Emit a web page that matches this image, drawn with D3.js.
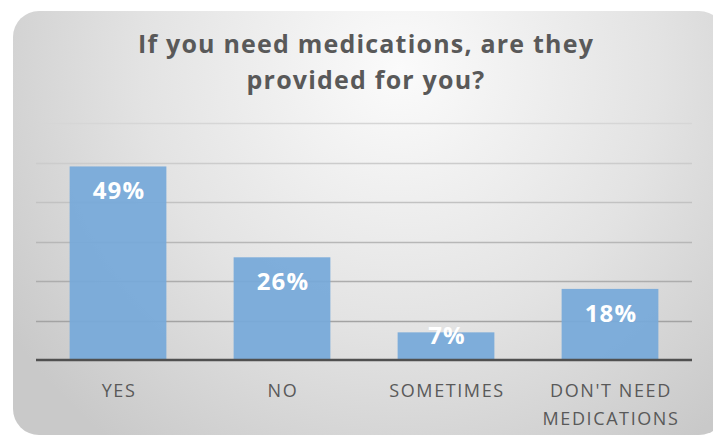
<!DOCTYPE html>
<html>
<head>
<meta charset="utf-8">
<script src="https://cdn.jsdelivr.net/npm/d3@7"></script>
<style>
  html, body { margin: 0; padding: 0; background: #ffffff; }
  svg { display: block; }
</style>
</head>
<body>
<svg id="chart" width="713" height="436"></svg>
<script>
// ---- data ----
const titleLines = ["If you need medications, are they", "provided for you?"];
const categories = ["YES", "NO", "SOMETIMES", "DON'T NEED\nMEDICATIONS"];
const values = [0.49, 0.26, 0.07, 0.18];
const valueLabels = ["49%", "26%", "7%", "18%"];
const gridTicks = [0, 0.1, 0.2, 0.3, 0.4, 0.5, 0.6];

const svg = d3.select("#chart");

// background panel with radial gradient
const defs = svg.append("defs");
const grad = defs.append("radialGradient")
  .attr("id", "bg").attr("gradientUnits", "userSpaceOnUse")
  .attr("cx", 400).attr("cy", 70).attr("r", 470);
grad.append("stop").attr("offset", "0").attr("stop-color", "#fbfbfb");
grad.append("stop").attr("offset", "0.55").attr("stop-color", "#e3e3e3");
grad.append("stop").attr("offset", "1").attr("stop-color", "#c9c9c9");

svg.append("rect")
  .attr("x", 13).attr("y", 11).attr("width", 712).attr("height", 424)
  .attr("rx", 26).attr("ry", 26)
  .attr("fill", "url(#bg)");

// scales
const plot = { left: 36, right: 692, top: 123, bottom: 360 };
const x = d3.scaleBand().domain(categories)
  .range([plot.left, plot.right]).paddingInner(0.41).paddingOuter(0.205);
const y = d3.scaleLinear().domain([0, 0.6]).range([plot.bottom, plot.top]);

// gridlines
const gridColor = d3.scaleLinear().domain([0.6, 0.1]).range(["#d6d6d6", "#a3a3a3"]);
svg.append("g").selectAll("line")
  .data(gridTicks.filter(d => d > 0))
  .join("line")
  .attr("x1", plot.left).attr("x2", plot.right)
  .attr("y1", d => Math.round(y(d)) + 0.5).attr("y2", d => Math.round(y(d)) + 0.5)
  .attr("stroke", d => gridColor(d)).attr("stroke-width", 1.3);

// bars
svg.append("g").selectAll("rect")
  .data(values)
  .join("rect")
  .attr("x", (d, i) => x(categories[i]))
  .attr("width", x.bandwidth())
  .attr("y", d => y(d))
  .attr("height", d => y(0) - y(d))
  .attr("fill", "#76a9d9")
  .attr("fill-opacity", 0.93);

// baseline axis
const xAxis = d3.axisBottom(x).tickSize(0).tickFormat("");
const ax = svg.append("g").attr("transform", `translate(0,${plot.bottom})`).call(xAxis);
ax.select(".domain").attr("stroke", "#505050").attr("stroke-width", 2.5)
  .attr("d", `M${plot.left},0H${plot.right}`);

// category labels
svg.append("g").selectAll("text")
  .data(categories)
  .join("text")
  .attr("text-anchor", "middle")
  .attr("font-family", "'Open Sans', sans-serif")
  .attr("font-size", 18)
  .attr("letter-spacing", 1.6)
  .attr("fill", "#595959")
  .each(function(d) {
    const lines = d.split("\n");
    const t = d3.select(this);
    lines.forEach((ln, k) => {
      t.append("tspan")
        .attr("x", x(d) + x.bandwidth() / 2 + 1)
        .attr("y", 397 + k * 28)
        .text(ln);
    });
  });

// value labels
svg.append("g").selectAll("text")
  .data(values)
  .join("text")
  .attr("text-anchor", "middle")
  .attr("font-family", "'Open Sans', sans-serif")
  .attr("font-weight", "bold")
  .attr("font-size", 24)
  .attr("letter-spacing", 1.2)
  .attr("fill", "#ffffff")
  .attr("x", (d, i) => x(categories[i]) + x.bandwidth() / 2 + 1)
  .attr("y", d => (y(0) - y(d) > 40 ? y(d) + 33 : y(d) + 12))
  .text((d, i) => valueLabels[i]);

// title
svg.append("text")
  .attr("text-anchor", "middle")
  .attr("font-family", "'Open Sans', sans-serif")
  .attr("font-weight", "bold")
  .attr("font-size", 25)
  .attr("letter-spacing", 1.2)
  .attr("fill", "#595959")
  .selectAll("tspan")
  .data(titleLines)
  .join("tspan")
  .attr("x", 366)
  .attr("y", (d, i) => 53 + i * 36)
  .text(d => d);
</script>
</body>
</html>
